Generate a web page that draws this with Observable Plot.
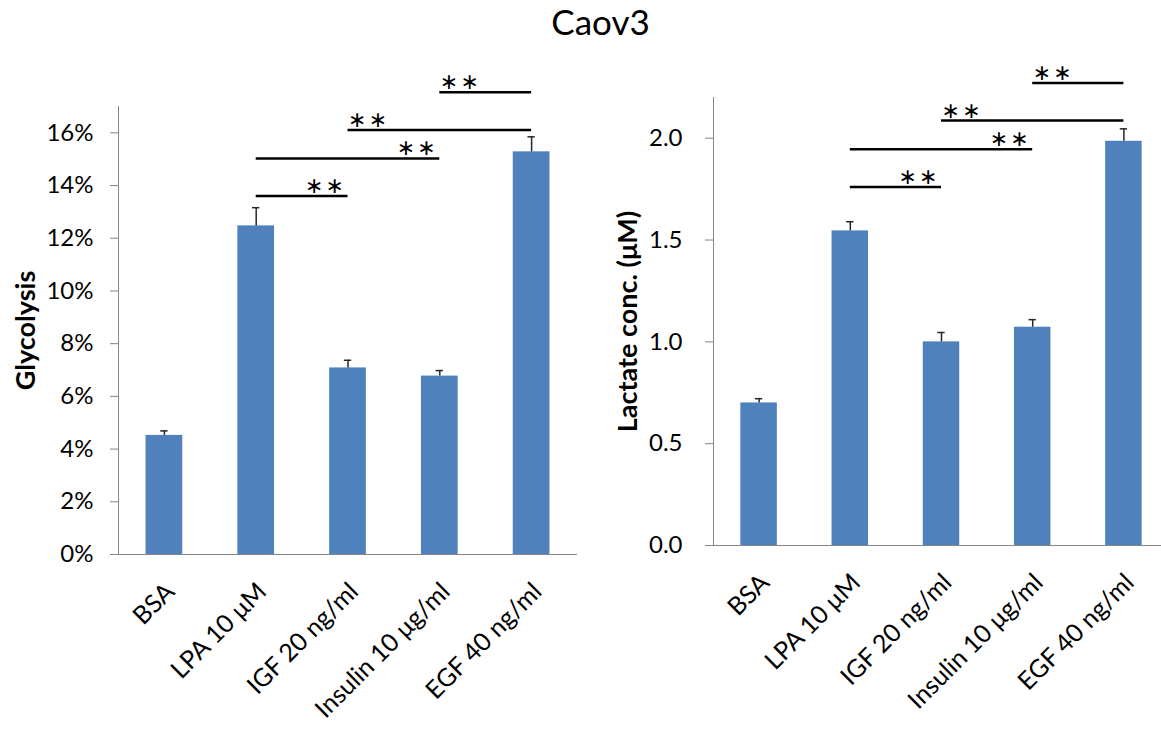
<!DOCTYPE html>
<html>
<head>
<meta charset="utf-8">
<script src="https://cdn.jsdelivr.net/npm/d3@7"></script>
<script src="https://cdn.jsdelivr.net/npm/@observablehq/plot@0.6"></script>
<style>
  html, body { margin: 0; padding: 0; background: #fff; overflow: hidden; }
  #fig { position: relative; width: 1161px; height: 731px; overflow: hidden; font-family: Lato, "Open Sans", sans-serif; }
  #title { position: absolute; left: 20px; top: 4px; width: 1161px; text-align: center; font-size: 35px; line-height: 35px; color: #000; }
  .panel { position: absolute; top: 0; width: 590px; height: 731px; }
  .panel svg { max-width: none !important; }
</style>
</head>
<body>
<div id="fig">
  <div id="title">Caov3</div>
  <div id="left" class="panel" style="left:0px"></div>
  <div id="right" class="panel" style="left:580px"></div>
</div>
<script>
// Treatments shared by both panels
const treatments = ["BSA", "LPA 10 μM", "IGF 20 ng/ml", "Insulin 10 μg/ml", "EGF 40 ng/ml"];

// Glycolysis (fraction) – mean and top of error bar
const glycolysis = [0.0452, 0.1247, 0.0708, 0.0677, 0.1528];
const glycolysisUpper = [0.0469, 0.1316, 0.0737, 0.0698, 0.1585];
const glycolysisTicks = [0, 0.02, 0.04, 0.06, 0.08, 0.10, 0.12, 0.14, 0.16];

// Lactate concentration (μM) – mean and top of error bar
const lactate = [0.70, 1.545, 1.00, 1.072, 1.985];
const lactateUpper = [0.721, 1.590, 1.046, 1.109, 2.046];
const lactateTicks = [0, 0.5, 1.0, 1.5, 2.0];

// Significance brackets: compared treatments, bracket height, side of the stars
const pairFrom = ["LPA 10 μM", "LPA 10 μM", "IGF 20 ng/ml", "Insulin 10 μg/ml"];
const pairTo = ["IGF 20 ng/ml", "Insulin 10 μg/ml", "EGF 40 ng/ml", "EGF 40 ng/ml"];
const starSide = ["end", "end", "start", "start"];
const glycolysisBracket = [0.136, 0.1503, 0.1611, 0.1754];
const lactateBracket = [1.761, 1.946, 2.087, 2.271];
const sigLabel = "∗\u200A∗";

const BLUE = "#4F81BD";
const AXIS = "#868686";
const idx = treatments.map((_, i) => i);

function panel({values, upper, bracket, ticks, format, yMax, label, width, marginLeft, marginRight, marginTop, marginBottom, tickPadding, labelDx}) {
  const bars = treatments.map((t, i) => ({i, t, v: values[i], u: upper[i]}));
  const pairs = pairFrom.map((f, k) => ({
    a: treatments.indexOf(f), b: treatments.indexOf(pairTo[k]), y: bracket[k], side: starSide[k]
  }));
  const half = 0.2, cap = 0.04;
  return Plot.plot({
    width, height: 731,
    marginLeft, marginRight, marginTop, marginBottom,
    style: {fontFamily: "Lato, 'Open Sans', sans-serif", background: "transparent", overflow: "visible"},
    x: {type: "linear", domain: [-0.5, 4.5]},
    y: {domain: [0, yMax]},
    marks: [
      Plot.rectY(bars, {x1: d => d.i - half, x2: d => d.i + half, y1: 0, y2: "v", fill: BLUE}),
      Plot.ruleX(bars, {x: "i", y1: "v", y2: "u", stroke: "#262626", strokeWidth: 1.5}),
      Plot.ruleY(bars, {x1: d => d.i - cap, x2: d => d.i + cap, y: "u", stroke: "#262626", strokeWidth: 1.5}),
      Plot.ruleX([-0.5], {stroke: AXIS}),
      Plot.ruleY([0], {stroke: AXIS}),
      Plot.axisY({ticks, tickFormat: format, tickSize: 8, tickPadding, stroke: AXIS, fill: "#000", fontSize: 24, label: null}),
      Plot.axisX(idx, {tickFormat: i => treatments[i], tickRotate: -45, tickSize: 0, tickPadding: 33, dx: 6, fill: "#000", fontSize: 25, label: null}),
      Plot.text([label], {frameAnchor: "left", textAnchor: "middle", rotate: -90, dx: labelDx, fontSize: 27, fontWeight: "bold", fill: "#000"}),
      Plot.ruleY(pairs, {x1: "a", x2: "b", y: "y", stroke: "#000", strokeWidth: 2.5}),
      Plot.text(pairs.filter(p => p.side === "end"), {x: "b", y: "y", text: () => sigLabel, textAnchor: "end", dx: -4, dy: -10, fontSize: 22, fontFamily: "DejaVu Sans", fill: "#000"}),
      Plot.text(pairs.filter(p => p.side === "start"), {x: "a", y: "y", text: () => sigLabel, textAnchor: "start", dx: 0, dy: -10, fontSize: 22, fontFamily: "DejaVu Sans", fill: "#000"})
    ]
  });
}

document.getElementById("left").append(panel({
  values: glycolysis, upper: glycolysisUpper, bracket: glycolysisBracket,
  ticks: glycolysisTicks, format: d3.format(".0%"), yMax: 0.17,
  label: "Glycolysis", width: 590,
  marginLeft: 118, marginRight: 13, marginTop: 106, marginBottom: 177,
  tickPadding: 17, labelDx: -92
}));

document.getElementById("right").append(panel({
  values: lactate, upper: lactateUpper, bracket: lactateBracket,
  ticks: lactateTicks, format: d3.format(".1f"), yMax: 2.2,
  label: "Lactate conc. (μM)", width: 590,
  marginLeft: 133, marginRight: 1, marginTop: 97, marginBottom: 186,
  tickPadding: 23, labelDx: -85
}));
</script>
</body>
</html>
